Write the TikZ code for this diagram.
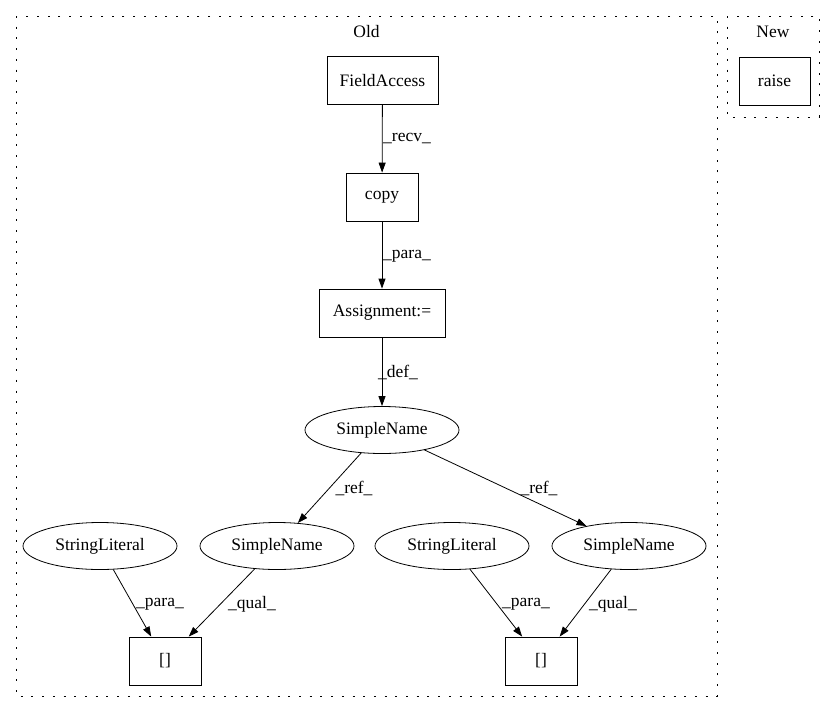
\documentclass[tikz,border=0pt]{standalone}
\usepackage{fontspec}
\setmainfont{Liberation Serif}
\usetikzlibrary{arrows.meta,shapes.geometric}
\begin{document}
\begin{tikzpicture}[x=1pt,y=-1pt,
  every node/.style={font=\fontsize{17.5}{20}\selectfont},
  box/.style={draw,rectangle,minimum height=48pt,inner sep=0pt,line width=0.8pt},
  oval/.style={draw,ellipse,minimum width=154pt,minimum height=47pt,inner sep=0pt,line width=0.8pt},
  cluster/.style={draw,line width=1pt,dash pattern=on 2pt off 8.7pt},
  edge/.style={draw,line width=0.8pt,-{Triangle[length=10pt,width=7pt]}},
  lbl/.style={inner sep=0pt}]
\fill[white] (0,0) rectangle (837,712);
\useasboundingbox (0,0) rectangle (837,712);
% clusters
\draw[cluster] (16,16) rectangle (717,696);
\draw[cluster] (727,16) rectangle (819,117);
\node (old) at (366.5,32) {Old};
\node (new) at (773,32) {New};
% nodes
\node[box,minimum width=71pt] (raise) at (774.5,81) {raise};
\node[box,minimum width=111pt] (fa) at (382.5,80.5) {FieldAccess};
\node[box,minimum width=72pt] (copy) at (382,197) {copy};
\node[box,minimum width=126pt] (asg) at (382,313) {Assignment:=};
\node[oval] (sn) at (382,430) {SimpleName};
\node[oval] (sl1) at (100,546) {StringLiteral};
\node[oval] (sn1) at (277,546) {SimpleName};
\node[oval] (sl2) at (452,546) {StringLiteral};
\node[oval] (sn2) at (629,546) {SimpleName};
\node[box,minimum width=72pt] (b1) at (165,661) {[]};
\node[box,minimum width=72pt] (b2) at (541,661) {[]};
% edges
\draw[edge] (fa) -- (copy);
\draw[edge] (copy) -- (asg);
\draw[edge] (asg) -- (sn);
\draw[edge] (sn) -- (sn1);
\draw[edge] (sn) -- (sn2);
\draw[edge] (sl1) -- (b1);
\draw[edge] (sn1) -- (b1);
\draw[edge] (sl2) -- (b2);
\draw[edge] (sn2) -- (b2);
% edge labels
\node[lbl] (l1) at (407,139) {\_recv\_};
\node[lbl] (l2) at (407,256) {\_para\_};
\node[lbl] (l3) at (398,372) {\_def\_};
\node[lbl] (l4) at (354,488) {\_ref\_};
\node[lbl] (l5) at (539,488) {\_ref\_};
\node[lbl] (l6) at (160,604) {\_para\_};
\node[lbl] (l7) at (252,604) {\_qual\_};
\node[lbl] (l8) at (526,604) {\_para\_};
\node[lbl] (l9) at (613,604) {\_qual\_};
\end{tikzpicture}
\end{document}
